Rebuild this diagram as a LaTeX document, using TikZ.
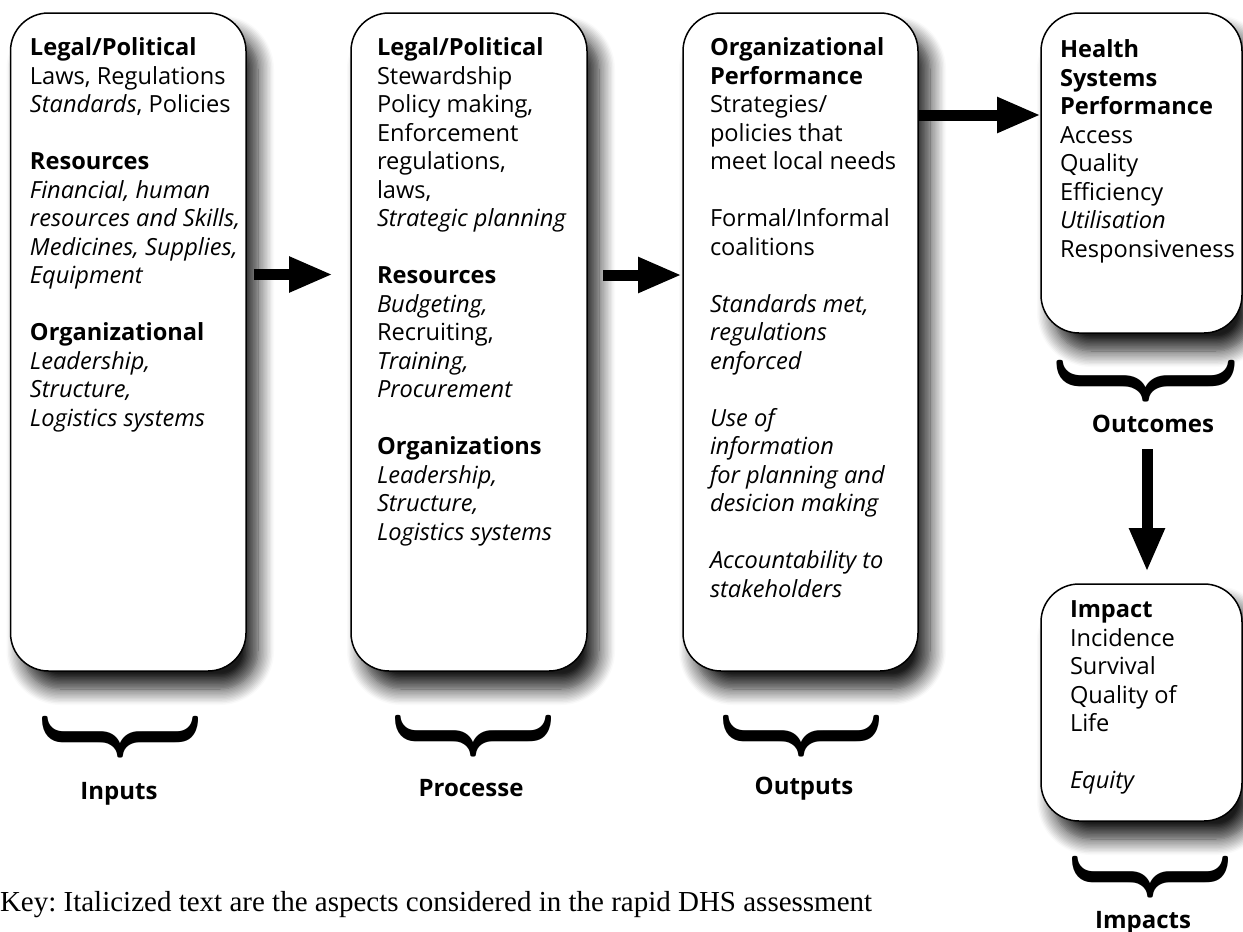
\documentclass[tikz,border=0pt]{standalone}
\usepackage{fontspec}
\usepackage{graphicx}
\setmainfont{Open Sans}
\newfontfamily\keyfont{Liberation Serif}
\usetikzlibrary{arrows.meta,shadows.blur}
\newcommand{\stagebrace}[1]{\rotatebox{-90}{\scalebox{5}[#1]{\fontsize{10}{10}\selectfont\boldmath$\}$}}}

\begin{document}
\begin{tikzpicture}[%
    x=0.5pt, y=-0.5pt,
    every node/.style = {inner sep=0pt, outer sep=0pt},
    box/.style = {draw=black, line width=0.75pt, fill=white, rounded corners=19pt,
      blur shadow={shadow xshift=6pt, shadow yshift=-9pt, shadow blur radius=8pt,
        shadow blur steps=12, shadow opacity=90}},
    box text/.style = {anchor=north west, align=left, font=\fontsize{11.8}{14.25}\selectfont,
      execute at begin node=\rule{0pt}{9.5pt}},
    stage/.style = {anchor=base, font=\fontsize{12}{14}\selectfont\bfseries},
    flow/.style = {line width=5.5pt, -{Triangle[length=22pt, width=16.5pt]}}%
  ]
  \useasboundingbox (0,0) rectangle (1243,932);

  \node[box, minimum width=117.75pt, minimum height=329pt] (inputs) at (128.25,342) {};
  \node[box, minimum width=118pt, minimum height=329pt] (processes) at (469,342) {};
  \node[box, minimum width=117.5pt, minimum height=329pt] (outputs) at (800.5,342) {};
  \node[box, minimum width=100.5pt, minimum height=160pt] (outcomes) at (1141.5,173) {};
  \node[box, minimum width=100.5pt, minimum height=118.5pt] (impacts) at (1141.5,702.5) {};

  \node[box text] (inputs text) at (30,38) {%
    \textbf{Legal/Political}\\
    Laws, Regulations\\
    \textit{Standards}, Policies\\[14.25pt]
    \textbf{Resources}\\
    \textit{Financial, human}\\
    \textit{resources and Skills,}\\
    \textit{Medicines, Supplies,}\\
    \textit{Equipment}\\[14.25pt]
    \textbf{Organizational}\\
    \textit{Leadership,}\\
    \textit{Structure,}\\
    \textit{Logistics systems}};
  \node[box text] (processes text) at (377,38) {%
    \textbf{Legal/Political}\\
    Stewardship\\
    Policy making,\\
    Enforcement\\
    regulations,\\
    laws,\\
    \textit{Strategic planning}\\[14.25pt]
    \textbf{Resources}\\
    \textit{Budgeting,}\\
    Recruiting,\\
    \textit{Training,}\\
    \textit{Procurement}\\[14.25pt]
    \textbf{Organizations}\\
    \textit{Leadership,}\\
    \textit{Structure,}\\
    \textit{Logistics systems}};
  \node[box text] (outputs text) at (710,38) {%
    \textbf{Organizational}\\
    \textbf{Performance}\\
    Strategies/\\
    policies that\\
    meet local needs\\[14.25pt]
    Formal/Informal\\
    coalitions\\[14.25pt]
    \textit{Standards met,}\\
    \textit{regulations}\\
    \textit{enforced}\\[14.25pt]
    \textit{Use of}\\
    \textit{information}\\
    \textit{for planning and}\\
    \textit{desicion making}\\[14.25pt]
    \textit{Accountability to}\\
    \textit{stakeholders}};
  \node[box text] (outcomes text) at (1060,40) {%
    \textbf{Health}\\
    \textbf{Systems}\\
    \textbf{Performance}\\
    Access\\
    Quality\\
    Efficiency\\
    \textit{Utilisation}\\
    Responsiveness};
  \node[box text] (impacts text) at (1070,601) {%
    \textbf{Impact}\\
    Incidence\\
    Survival\\
    Quality of\\
    Life\\[14.25pt]
    \textit{Equity}};

  \draw[flow, shorten <=4pt, shorten >=9pt] ([yshift=33.75pt]inputs.east) -- ([yshift=33.75pt]processes.west);
  \draw[flow, shorten <=8pt, shorten >=0.5pt] ([yshift=33.5pt]processes.east) -- ([yshift=33.5pt]outputs.west);
  \draw[flow, shorten <=0.5pt] ([yshift=113.5pt]outputs.east) -- ([yshift=29pt]outcomes.west);
  \draw[flow, shorten >=6pt] ([xshift=2.75pt, yshift=67.5pt]impacts.north) -- ([xshift=2.75pt]impacts.north);

  \node (inputs brace) at (120,737) {\stagebrace{7.8}};
  \node (processes brace) at (473,736.5) {\stagebrace{7.8}};
  \node (outputs brace) at (801,736.5) {\stagebrace{7.8}};
  \node (outcomes brace) at (1146,381.5) {\stagebrace{8.9}};
  \node (impacts brace) at (1150,877.5) {\stagebrace{7.8}};

  \node[stage] (inputs label) at (119,799) {Inputs};
  \node[stage] (processes label) at (471,796) {Processe};
  \node[stage] (outputs label) at (804,794) {Outputs};
  \node[stage] (outcomes label) at (1153,432) {Outcomes};
  \node[stage] (impacts label) at (1143,928) {Impacts};

  \node[anchor=base west, font=\keyfont\fontsize{14.5}{16}\selectfont\frenchspacing] (key) at (0,911)
    {Key: Italicized text are the aspects considered in the rapid DHS assessment};
\end{tikzpicture}
\end{document}
